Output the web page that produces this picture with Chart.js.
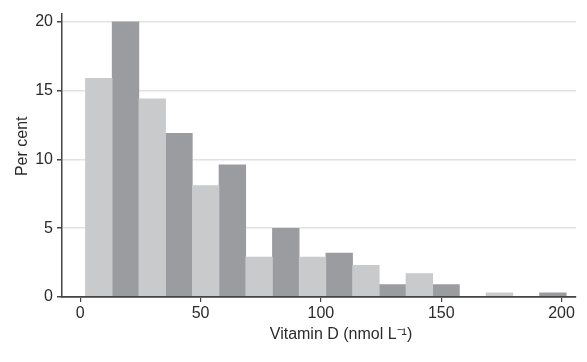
<!DOCTYPE html>
<html>
<head>
<meta charset="utf-8">
<script src="https://cdn.jsdelivr.net/npm/chart.js@4"></script>
<style>
  html, body { margin: 0; padding: 0; background: #fff; }
  #wrap { width: 587px; height: 362px; }
</style>
</head>
<body>
<div id="wrap"><canvas id="vitD"></canvas></div>
<script>
  // bin centres (nmol/L) and per cent for the two alternating bar groups
  const lightX = [7.7, 29.9, 52.1, 74.3, 96.5, 118.7, 140.9, 174.2];
  const lightPct = [15.9, 14.4, 8.1, 2.9, 2.9, 2.3, 1.7, 0.3];
  const darkX = [18.8, 41.0, 63.2, 85.4, 107.6, 129.8, 152.0, 196.4];
  const darkPct = [20.0, 11.9, 9.6, 5.0, 3.2, 0.9, 0.9, 0.3];
  const xTicks = [0, 50, 100, 150, 200];
  const yTicks = [0, 5, 10, 15, 20];
  const xTitle = "Vitamin D (nmol L\u207B\u00B9)";
  const yTitle = "Per cent";

  const font = { family: "'Liberation Sans', Arial, sans-serif", size: 16 };
  const ink = '#2b2b2b';

  const pts = (xs, ys) => xs.map((x, i) => ({ x, y: ys[i] }));

  // axis titles sit a little off the plot centre in the original, so draw them by hand
  const axisTitles = {
    id: "axisTitles",
    afterDraw(chart) {
      const { ctx, chartArea: a } = chart;
      ctx.save();
      ctx.fillStyle = ink;
      ctx.font = `${font.size}px ${font.family}`;
      ctx.textAlign = "center";
      ctx.textBaseline = "middle";
      ctx.fillText(xTitle, (a.left + a.right) / 2 + 22, 335);
      ctx.translate(22.5, (a.top + a.bottom) / 2 - 9);
      ctx.rotate(-Math.PI / 2);
      ctx.fillText(yTitle, 0, 0);
      ctx.restore();
    }
  };

  new Chart(document.getElementById("vitD"), {
    type: "bar",
    data: {
      datasets: [
        { data: pts(lightX, lightPct), backgroundColor: "#c9cacc", borderWidth: 0 },
        { data: pts(darkX, darkPct), backgroundColor: "#9b9ca0", borderWidth: 0 }
      ]
    },
    plugins: [axisTitles],
    options: {
      responsive: true,
      maintainAspectRatio: false,
      animation: false,
      grouped: false,
      categoryPercentage: 1,
      barPercentage: 1,
      layout: { padding: { top: 7, right: 11, bottom: 0, left: 0 } },
      plugins: { legend: { display: false }, tooltip: { enabled: false } },
      scales: {
        x: {
          type: "linear",
          offset: false,
          min: -7.6,
          max: 206,
          afterBuildTicks: s => { s.ticks = xTicks.map(v => ({ value: v })); },
          afterFit: s => { s.height = 65; },
          ticks: { color: ink, font, padding: 2, maxRotation: 0 },
          grid: { offset: false, drawOnChartArea: false, tickColor: "#444", tickLength: 5, lineWidth: 1.2 },
          border: { color: "#444", width: 1.8, z: 1 }
        },
        y: {
          min: 0,
          max: 20.6,
          afterBuildTicks: s => { s.ticks = yTicks.map(v => ({ value: v })); },
          afterFit: s => { s.width = 62; },
          ticks: { color: ink, font, padding: 4 },
          grid: { color: "#e2e2e2", lineWidth: 1.5, tickColor: "#444", tickLength: 5 },
          border: { color: "#444", width: 1.5, z: 1 }
        }
      }
    }
  });
</script>
</body>
</html>
